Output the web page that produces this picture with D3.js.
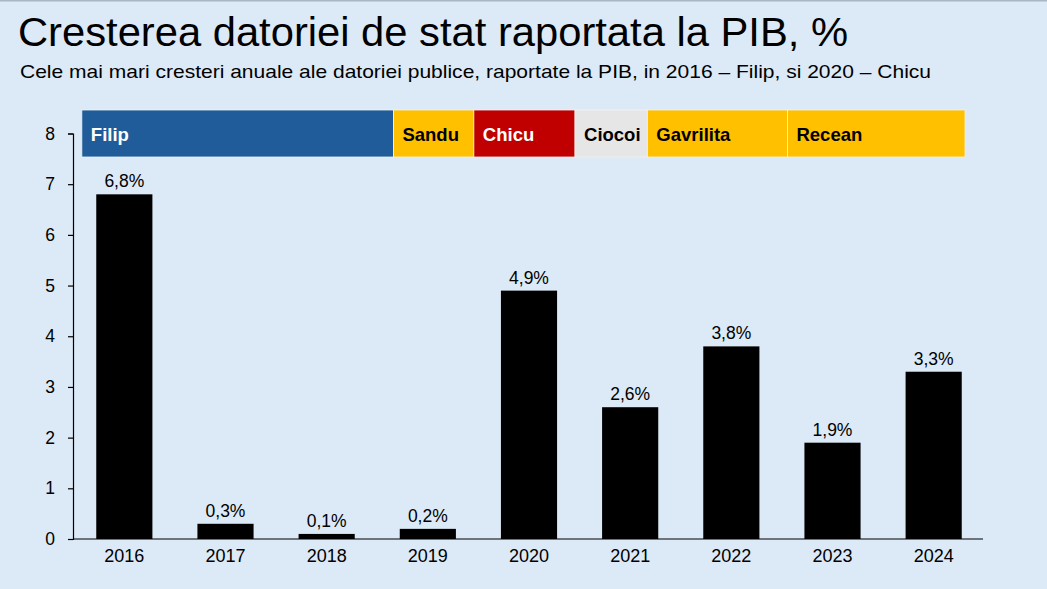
<!DOCTYPE html>
<html>
<head>
<meta charset="utf-8">
<script src="https://cdn.jsdelivr.net/npm/d3@7"></script>
<style>
  body { margin: 0; background: #dce9f6; }
  svg { display: block; font-family: "Liberation Sans", Arial, sans-serif; }
</style>
</head>
<body>
<svg id="chart" width="1047" height="589"></svg>
<script>
// data
var years = ['2016', '2017', '2018', '2019', '2020', '2021', '2022', '2023', '2024'];
var growth = [6.8, 0.3, 0.1, 0.2, 4.9, 2.6, 3.8, 1.9, 3.3];
var growthLabels = ['6,8%', '0,3%', '0,1%', '0,2%', '4,9%', '2,6%', '3,8%', '1,9%', '3,3%'];
var yTicks = [0, 1, 2, 3, 4, 5, 6, 7, 8];

// governments, in year units (start / end)
var pmNames = ['Filip', 'Sandu', 'Chicu', 'Ciocoi', 'Gavrilita', 'Recean'];
var pmStart = [2015.58, 2018.66, 2019.455, 2020.455, 2021.17, 2022.555];
var pmEnd = [2018.66, 2019.455, 2020.455, 2021.17, 2022.555, 2024.31];
var pmColors = ['#1f5c99', '#ffc000', '#c00000', '#e7e6e6', '#ffc000', '#ffc000'];
var pmText = ['#ffffff', '#000000', '#ffffff', '#000000', '#000000', '#000000'];

var svg = d3.select('#chart');

svg.append('rect').attr('width', 1047).attr('height', 589).attr('fill', '#dce9f6');
svg.append('rect').attr('width', 1047).attr('height', 1.5).attr('fill', '#aab6c4');

svg.append('text')
    .attr('x', 18).attr('y', 46)
    .attr('font-size', 40)
    .attr('textLength', 830).attr('lengthAdjust', 'spacingAndGlyphs')
    .attr('fill', '#000')
    .text('Cresterea datoriei de stat raportata la PIB, %');

svg.append('text')
    .attr('x', 20).attr('y', 78)
    .attr('font-size', 19)
    .attr('textLength', 911).attr('lengthAdjust', 'spacingAndGlyphs')
    .attr('fill', '#000')
    .text('Cele mai mari cresteri anuale ale datoriei publice, raportate la PIB, in 2016 \u2013 Filip, si 2020 \u2013 Chicu');

var x = d3.scaleBand().domain(years).range([74, 984]).paddingInner(0.445).paddingOuter(0.22);
var y = d3.scaleLinear().domain([0, 8]).range([539, 133.5]);

var bw = x.bandwidth();
var xYear = d3.scaleLinear()
    .domain([2016, 2024])
    .range([x('2016') + bw / 2, x('2024') + bw / 2]);

// y axis
var yAxis = d3.axisLeft(y).tickValues(yTicks).tickSize(5).tickPadding(13).tickFormat(d3.format('d'));
var gy = svg.append('g').attr('transform', 'translate(73,0)').call(yAxis);
gy.select('.domain').attr('stroke', '#000').attr('stroke-width', 1.2);
gy.selectAll('.tick line').attr('stroke', '#000').attr('stroke-width', 1.2);
gy.selectAll('.tick text').attr('font-size', 17.5).attr('fill', '#000')
    .attr('font-family', '"Liberation Sans", Arial, sans-serif');

// bars
svg.append('g').selectAll('rect')
    .data(growth)
    .join('rect')
    .attr('x', function (d, i) { return x(years[i]); })
    .attr('y', function (d) { return y(d); })
    .attr('width', bw)
    .attr('height', function (d) { return y(0) - y(d); })
    .attr('fill', '#000');

svg.append('g').selectAll('text')
    .data(growth)
    .join('text')
    .attr('x', function (d, i) { return x(years[i]) + bw / 2; })
    .attr('y', function (d) { return y(d) - 7; })
    .attr('text-anchor', 'middle')
    .attr('font-size', 17.5)
    .attr('fill', '#000')
    .text(function (d, i) { return growthLabels[i]; });

// x axis
var xAxis = d3.axisBottom(x).tickSize(0).tickPadding(10);
var gx = svg.append('g').attr('transform', 'translate(0,539)').call(xAxis);
gx.select('.domain').remove();
gx.selectAll('.tick text').attr('font-size', 18).attr('fill', '#000')
    .attr('font-family', '"Liberation Sans", Arial, sans-serif');
svg.append('line')
    .attr('x1', 73).attr('x2', 983)
    .attr('y1', 539).attr('y2', 539)
    .attr('stroke', '#000').attr('stroke-width', 1.2);

// government band
var band = svg.append('g');
var bandTop = 110, bandH = 47;
band.selectAll('rect')
    .data(pmNames)
    .join('rect')
    .attr('x', function (d, i) { return xYear(pmStart[i]); })
    .attr('y', bandTop)
    .attr('width', function (d, i) { return xYear(pmEnd[i]) - xYear(pmStart[i]); })
    .attr('height', bandH)
    .attr('fill', function (d, i) { return pmColors[i]; })
    .attr('stroke', '#f3f3f3')
    .attr('stroke-width', 0.8);
band.selectAll('text')
    .data(pmNames)
    .join('text')
    .attr('x', function (d, i) { return xYear(pmStart[i]) + 9; })
    .attr('y', bandTop + 31)
    .attr('font-size', 18.5)
    .attr('font-weight', 'bold')
    .attr('fill', function (d, i) { return pmText[i]; })
    .text(function (d) { return d; });
</script>
</body>
</html>
